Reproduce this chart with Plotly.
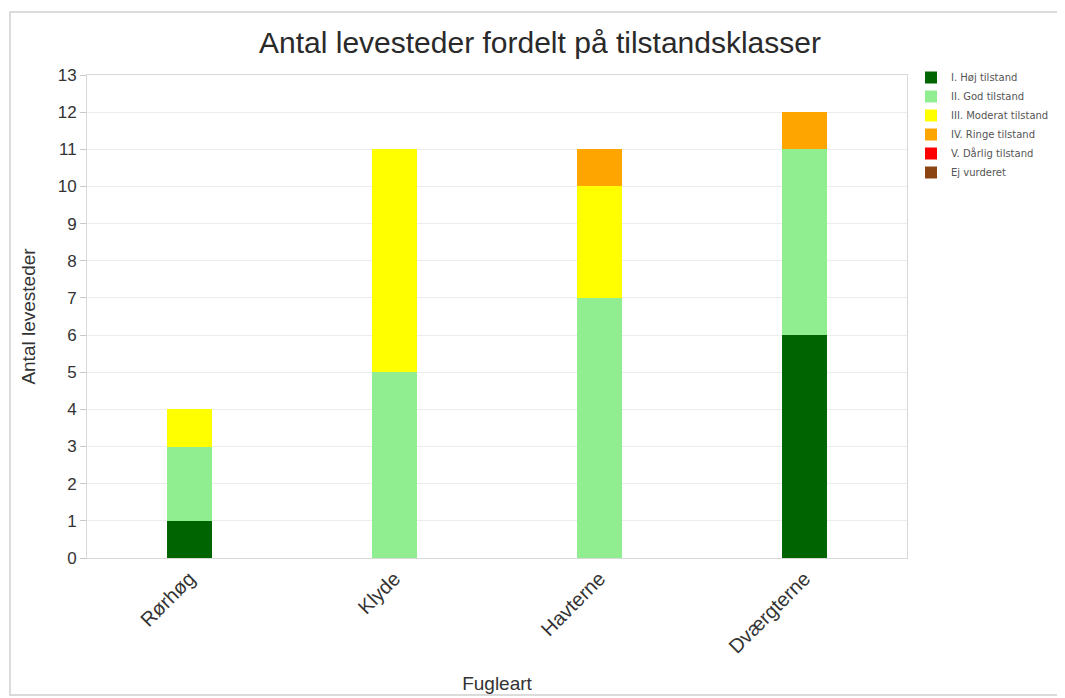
import plotly.graph_objects as go

categories = ["Rørhøg", "Klyde", "Havterne", "Dværgterne"]
series_names = ["I. Høj tilstand", "II. God tilstand", "III. Moderat tilstand",
                "IV. Ringe tilstand", "V. Dårlig tilstand", "Ej vurderet"]
hoej = [1, 0, 0, 6]
god = [2, 5, 7, 5]
moderat = [1, 6, 3, 0]
ringe = [0, 0, 1, 1]
daarlig = [0, 0, 0, 0]
ej_vurderet = [0, 0, 0, 0]
colors = ["#006400", "#90EE90", "#FFFF00", "#FFA500", "#FF0000", "#8B4513"]
y_ticks = list(range(0, 14))

values = [hoej, god, moderat, ringe, daarlig, ej_vurderet]

fig = go.Figure()
for name, vals, col in zip(series_names, values, colors):
    fig.add_trace(go.Bar(x=categories, y=vals, name=name,
                         marker=dict(color=col, line=dict(width=0)), width=0.22))

# page body has an 8px margin, so the figure is 8px smaller and shifted
W, H = 1057, 690
ml, mr, mt, mb = 79, 158, 67, 140
pw, ph = W - ml - mr, H - mt - mb

fig.update_layout(
    width=W, height=H,
    barmode="stack",
    paper_bgcolor="white", plot_bgcolor="white",
    margin=dict(l=ml, r=mr, t=mt, b=mb, autoexpand=False),
    font=dict(family="Liberation Sans, Arial, sans-serif", color="#333333"),
    title=dict(text="Antal levesteder fordelt på tilstandsklasser", x=532 / W,
               xanchor="center", y=1 - 34 / H, yanchor="middle",
               font=dict(size=30, color="#2a2a2a")),
    xaxis=dict(title=dict(text="Fugleart", font=dict(size=19), standoff=20),
               tickangle=-45, tickfont=dict(size=20, color="#333333"), automargin=False,
               showline=True, linecolor="#d8d8d8", mirror=True, showgrid=False,
               ticks="", range=[-0.5, 3.5]),
    yaxis=dict(title=dict(text="Antal levesteder", font=dict(size=19), standoff=17),
               range=[0, 13], tickvals=y_ticks, tickfont=dict(size=17, color="#333333"),
               automargin=False,
               showline=True, linecolor="#d8d8d8", mirror=True,
               showgrid=True, gridcolor="#ececec", ticks="outside", ticklen=6,
               tickcolor="#c8c8c8", zeroline=False),
    legend=dict(x=1 + 4 / pw, y=1 + 12 / ph, xanchor="left", yanchor="top",
                font=dict(size=10, color="#555555", family="DejaVu Sans, sans-serif"),
                tracegroupgap=0, traceorder="normal",
                itemwidth=30, bgcolor="rgba(0,0,0,0)"),
)

fig.add_shape(type="rect", xref="paper", yref="paper",
              x0=(2 - ml) / pw, x1=(W + 20 - ml) / pw,
              y0=-(687 - (H - mb)) / ph, y1=1 + (mt - 4) / ph,
              line=dict(color="#d0d0d0", width=1.5), fillcolor="rgba(0,0,0,0)", layer="below")

fig.write_html("out.html")
